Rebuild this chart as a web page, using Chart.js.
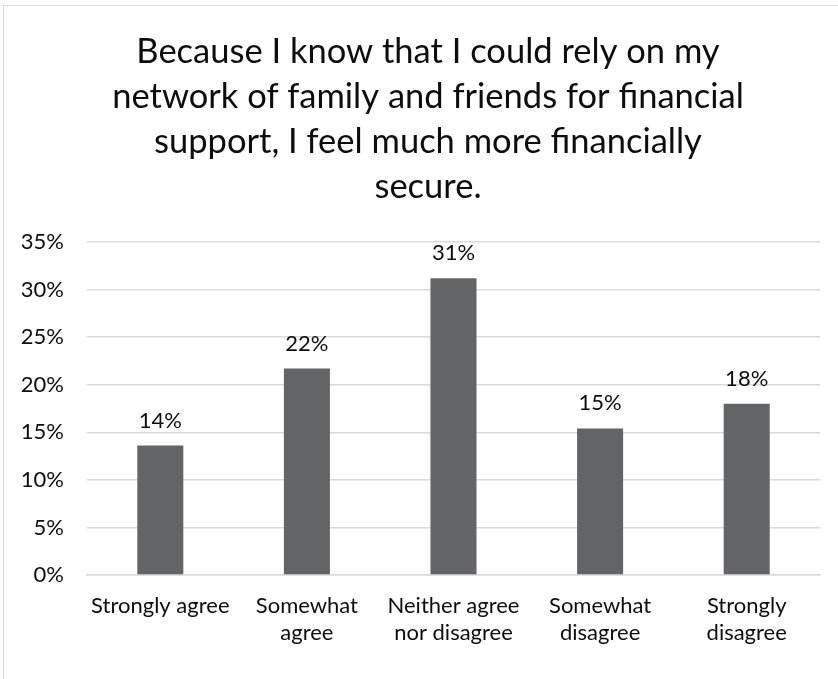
<!DOCTYPE html>
<html>
<head>
<meta charset="utf-8">
<title>Financial security survey</title>
<script src="https://cdn.jsdelivr.net/npm/chart.js@4"></script>
<style>
  html, body { margin: 0; padding: 0; background: #fff; overflow: hidden; }
  #frame {
    position: absolute; left: 3px; top: 5px;
    width: 848px; height: 700px;
    border-left: 1px solid #d9d9d9; border-top: 1px solid #d9d9d9;
  }
  canvas { display: block; }
</style>
</head>
<body>
<div id="frame"><canvas id="chart" width="848" height="690"></canvas></div>
<script>
// Chart text and survey answers
const titleLines = [
    'Because I know that I could rely on my',
    'network of family and friends for financial',
    'support, I feel much more financially',
    'secure.'
];
const categories = [
    ['Strongly agree'],
    ['Somewhat', 'agree'],
    ['Neither agree', 'nor disagree'],
    ['Somewhat', 'disagree'],
    ['Strongly', 'disagree']
];
const shares = [13.6, 21.7, 31.2, 15.4, 18.0]; // percent of respondents
const yTickLabels = ['0%', '5%', '10%', '15%', '20%', '25%', '30%', '35%'];

const textColor = '#0d0d0d';
const gridColor = '#d9d9d9';
const barColor = '#636466';
const fontFamily = 'Lato, "Open Sans", sans-serif';
const smallFont = '22px ' + fontFamily;

const ctx = document.getElementById('chart').getContext('2d');

// y labels sit 23px left of the plot, right aligned; mirror mode keeps them
// from being clipped to the (narrow) axis box, so offset by the widest label
ctx.font = smallFont;
const widestTick = Math.max(...yTickLabels.map(t => ctx.measureText(t).width));
const yLabelGap = 23;

// Writes the rounded percentage above each bar
const barLabels = {
    id: 'barLabels',
    afterDatasetsDraw(chart) {
        const c = chart.ctx;
        const meta = chart.getDatasetMeta(0);
        c.save();
        c.font = smallFont;
        c.fillStyle = textColor;
        c.textAlign = 'center';
        c.textBaseline = 'alphabetic';
        meta.data.forEach((bar, i) => {
            c.fillText(Math.round(shares[i]) + '%', bar.x, bar.y - 18);
        });
        c.restore();
    }
};

const chart = new Chart(ctx, {
    type: 'bar',
    data: {
        labels: categories,
        datasets: [{
            data: shares,
            backgroundColor: barColor,
            borderWidth: 0,
            categoryPercentage: 1,
            barPercentage: 0.314
        }]
    },
    options: {
        responsive: false,
        animation: false,
        layout: {
            padding: { left: 32, right: 32, top: 0, bottom: 32 }
        },
        plugins: {
            legend: { display: false },
            tooltip: { enabled: false },
            title: {
                display: true,
                text: titleLines,
                color: textColor,
                font: { family: fontFamily, size: 34.5, weight: 'normal', lineHeight: 45 / 34.5 },
                padding: { top: 23.5, bottom: 32.5 }
            }
        },
        scales: {
            x: {
                grid: { display: false, drawTicks: false },
                border: { display: true, color: gridColor, width: 1.5 },
                ticks: {
                    color: textColor,
                    font: { family: fontFamily, size: 22, lineHeight: 1.25 },
                    padding: 17,
                    maxRotation: 0,
                    autoSkip: false
                }
            },
            y: {
                min: 0,
                max: 35,
                grid: { color: gridColor, lineWidth: 1.5, drawTicks: false },
                border: { display: false },
                ticks: {
                    stepSize: 5,
                    color: textColor,
                    font: { family: fontFamily, size: 22 },
                    mirror: true,
                    crossAlign: 'far',
                    padding: -yLabelGap - widestTick,
                    callback: (value, index) => yTickLabels[index]
                },
                afterFit(scale) {
                    scale.width = 51;
                }
            }
        }
    },
    plugins: [barLabels]
});
</script>
</body>
</html>
